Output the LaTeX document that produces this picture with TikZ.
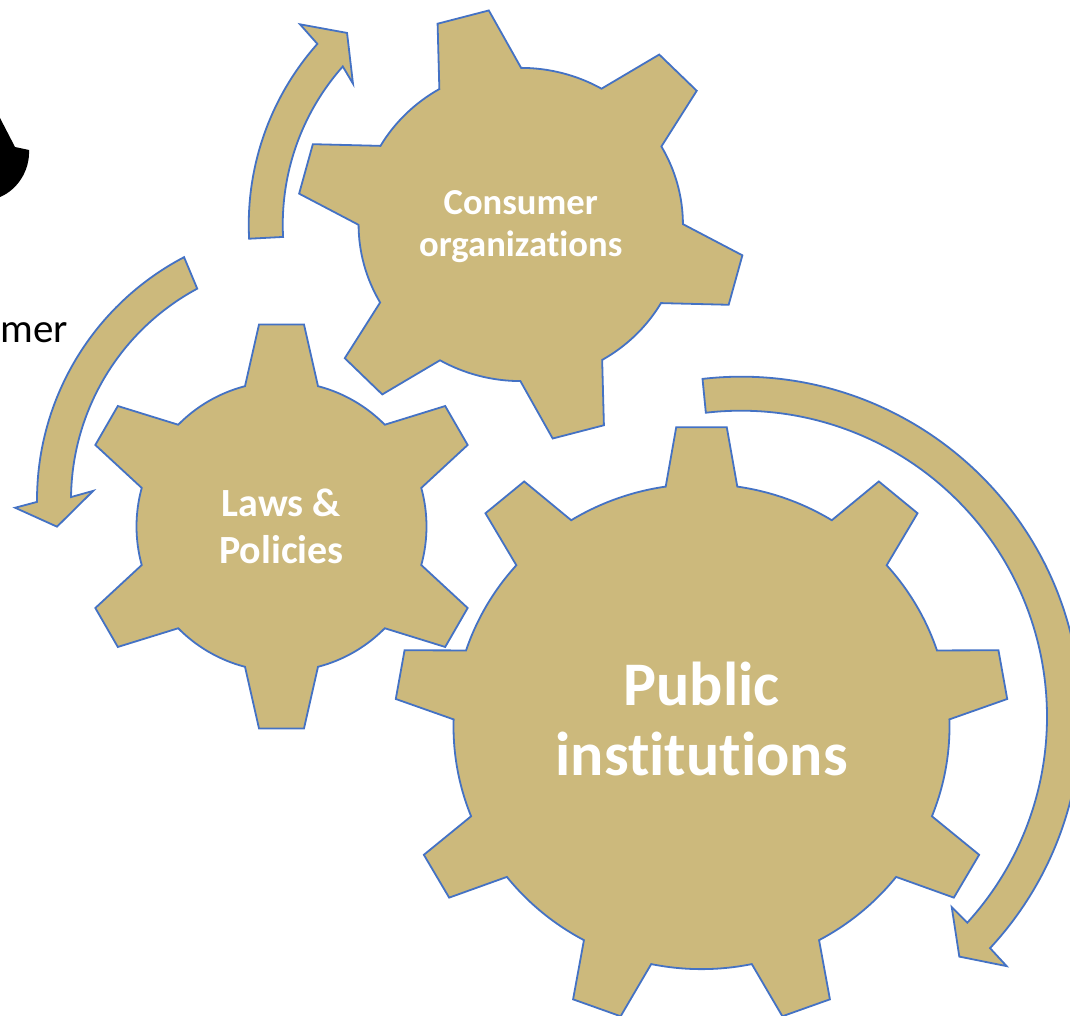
\documentclass[tikz,border=0pt]{standalone}
\usepackage{fontspec}
\setmainfont{Carlito}[Ligatures={NoCommon}]
\definecolor{gold}{RGB}{204,185,124}
\definecolor{edgeblue}{RGB}{68,114,196}
\tikzset{
  gearshape/.style={fill=gold, draw=edgeblue, line width=1.8pt, line join=miter},
  arrowshape/.style={fill=gold, draw=edgeblue, line width=1.8pt, line join=miter},
  geartext/.style={text=white, align=center, inner sep=0pt}
}
% #1 teeth, #2 first tooth angle, #3 tip radius, #4 root radius, #5 tip half width, #6 base half width
\newcommand{\mygear}[6]{%
  \pgfmathsetmacro{\gStep}{360/#1}%
  \pgfmathsetmacro{\gBeta}{atan(#5/#3)}%
  \pgfmathsetmacro{\gRt}{100*veclen(#3/100,#5/100)}%
  \pgfmathsetmacro{\gAlpha}{asin(#6/#4)}%
  \pgfmathtruncatemacro{\gLast}{#1-1}%
  \draw[gearshape] ({#2-\gAlpha}:#4pt)
    foreach \k in {0,...,\gLast} {
      -- ({#2+\k*\gStep-\gBeta}:\gRt pt) -- ({#2+\k*\gStep+\gBeta}:\gRt pt)
      -- ({#2+\k*\gStep+\gAlpha}:#4pt)
      arc[start angle={#2+\k*\gStep+\gAlpha}, end angle={#2+(\k+1)*\gStep-\gAlpha}, radius=#4pt]
    } -- cycle;%
}
\begin{document}
\begin{tikzpicture}[x=1pt,y=1pt]
\useasboundingbox (0,0) rectangle (1070,1016);
\clip (0,0) rectangle (1070,1016);

% partial black shape at top left
\fill[black] (0,898) -- (15,869) -- (29,866)
  .. controls (30,845) and (17,826) .. (0,819) -- cycle;
\node[anchor=base east, inner sep=0pt, font=\fontsize{41}{49}\selectfont] (mer) at (68,673.3) {mer};

% gears
\begin{scope}[shift={(520.75,791.5)}, xscale=1.02, yscale=0.985]
  \mygear{6}{45}{218}{159}{26}{41.5}
\end{scope}
\node[geartext, font=\bfseries\fontsize{36.6}{42}\selectfont] (consumer) at (520.75,789) {Consumer\\organizations};

\begin{scope}[shift={(281.5,489.5)}]
  \mygear{6}{30}{202}{145}{22.5}{36.5}
\end{scope}
\node[geartext, font=\bfseries\fontsize{40}{47}\selectfont] (laws) at (281.5,490) {Laws \&\\Policies};

\begin{scope}[shift={(701.5,289.4)}, yscale=0.978]
  \mygear{9}{90}{306}{248}{25.3}{35.8}
\end{scope}
\node[geartext, font=\bfseries\fontsize{62}{70}\selectfont] (public) at (701.5,296.6) {Public\\institutions};

% circular arrows
\begin{scope}[shift={(520.75,791.5)}]
  \draw[arrowshape] (183:272pt) arc[start angle=183, end angle=138.4, radius=272pt]
    -- (137.8:298pt) -- (132.2:258.6pt) -- (140:219pt) -- (138.4:238pt)
    arc[start angle=138.4, end angle=183, radius=238pt] -- cycle;
\end{scope}
\begin{scope}[shift={(311,516)}]
  \draw[arrowshape] (117.6:274pt) arc[start angle=117.6, end angle=180.4, radius=274pt]
    -- (181.5:296pt) -- (186:255.4pt) -- (177.6:218pt) -- (179.3:240pt)
    arc[start angle=179.3, end angle=118.3, radius=240pt] -- cycle;
\end{scope}
\begin{scope}[shift={(741,299.3)}]
  \draw[arrowshape] (96.5:340pt) arc[start angle=96.5, end angle=-42.9, radius=340pt]
    -- (-43.2:364.4pt) -- (-47.7:324.4pt) -- (-42.1:284pt) -- (-42.3:306pt)
    arc[start angle=-42.3, end angle=96.6, radius=306pt] -- cycle;
\end{scope}
\end{tikzpicture}
\end{document}
